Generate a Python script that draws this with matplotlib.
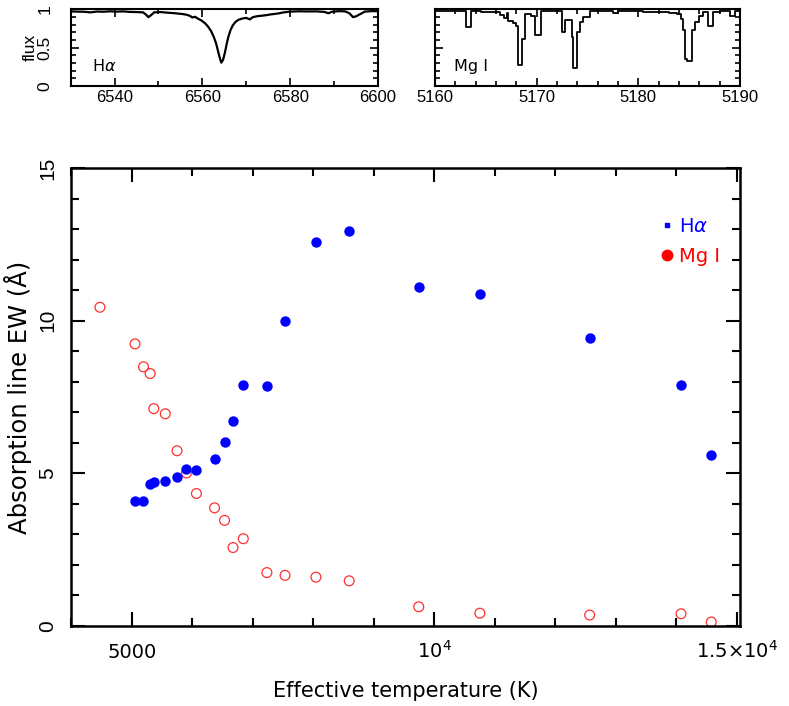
import matplotlib
matplotlib.use("Agg")
import matplotlib.pyplot as plt
from matplotlib.ticker import MultipleLocator, FixedLocator
from matplotlib.lines import Line2D

# stars: effective temperature (K) and line equivalent widths (Angstrom)
teff = [5050, 5190, 5300, 5360, 5550, 5745, 5900, 6065, 6365, 6530, 6670, 6840,
        7230, 7530, 8040, 8590, 9740, 10750, 12565, 14075, 14575]
ew_halpha = [4.10, 4.10, 4.65, 4.73, 4.76, 4.89, 5.13, 5.11, 5.48, 6.02, 6.73, 7.90,
             7.86, 9.99, 12.57, 12.95, 11.09, 10.86, 9.44, 7.89, 5.60]
teff_mg = [4470] + teff
ew_mg = [10.44, 9.24, 8.49, 8.27, 7.12, 6.95, 5.74, 5.01, 4.34, 3.87, 3.46, 2.57,
         2.86, 1.75, 1.66, 1.60, 1.48, 0.63, 0.42, 0.36, 0.40, 0.13]

# example spectrum around H-alpha
ha_wave = [6530.0, 6531.5, 6533.0, 6534.5, 6536.0, 6537.5, 6539.0, 6540.5, 6542.0, 6543.5,
           6545.0, 6546.5, 6547.2, 6547.7, 6548.3, 6549.0, 6550.5, 6552.0, 6553.5, 6554.5,
           6555.5, 6556.5, 6557.2, 6557.7, 6558.3, 6559.0, 6559.8, 6560.6, 6561.3, 6562.0,
           6562.6, 6563.1, 6563.5, 6563.9, 6564.3, 6564.7, 6565.1, 6565.5, 6565.9, 6566.4,
           6566.9, 6567.5, 6568.2, 6569.0, 6570.0, 6570.8, 6571.5, 6572.5, 6573.5, 6574.5,
           6575.5, 6576.5, 6577.5, 6578.5, 6580.0, 6582.0, 6584.0, 6586.0, 6587.8, 6588.7,
           6589.5, 6591.0, 6592.5, 6593.5, 6594.3, 6595.0, 6595.8, 6597.0, 6598.5, 6600.0]
ha_flux = [0.975, 0.972, 0.970, 0.962, 0.973, 0.970, 0.976, 0.972, 0.975, 0.968,
           0.966, 0.962, 0.930, 0.900, 0.925, 0.962, 0.966, 0.958, 0.952, 0.946,
           0.940, 0.930, 0.915, 0.895, 0.905, 0.880, 0.855, 0.820, 0.775, 0.715,
           0.640, 0.560, 0.470, 0.380, 0.305, 0.340, 0.430, 0.540, 0.640, 0.730,
           0.790, 0.835, 0.865, 0.880, 0.890, 0.870, 0.900, 0.912, 0.918, 0.925,
           0.935, 0.942, 0.950, 0.962, 0.972, 0.976, 0.974, 0.975, 0.968, 0.950,
           0.970, 0.978, 0.975, 0.950, 0.900, 0.910, 0.935, 0.972, 0.978, 0.978]

# example spectrum around the Mg I triplet (binned, drawn as steps)
mg_wave = [5160.0, 5161.5, 5163.1, 5163.5, 5164.5, 5165.5, 5166.4, 5166.8, 5167.1, 5167.2,
           5167.7, 5168.0, 5168.2, 5168.6, 5168.9, 5169.4, 5169.8, 5170.4, 5172.5, 5172.8,
           5173.5, 5173.6, 5174.0, 5174.3, 5174.6, 5175.2, 5177.5, 5178.0, 5180.5, 5182.0,
           5183.0, 5183.8, 5184.2, 5184.4, 5184.6, 5184.8, 5185.3, 5185.6, 5186.0, 5186.4,
           5186.9, 5187.3, 5188.0, 5189.0, 5189.5, 5190.0]
mg_flux = [0.980, 0.975, 0.767, 0.975, 0.970, 0.965, 0.933, 0.889, 0.950, 0.854,
           0.820, 0.790, 0.275, 0.610, 0.935, 0.920, 0.663, 0.976, 0.706, 0.859,
           0.641, 0.232, 0.706, 0.837, 0.902, 0.976, 0.960, 0.975, 0.970, 0.965,
           0.958, 0.946, 0.880, 0.728, 0.353, 0.322, 0.728, 0.837, 0.920, 0.963,
           0.790, 0.963, 0.975, 0.920, 0.976, 0.976]

x_ticks = [5000, 10000, 15000]
x_ticklabels = ["5000", "$10^4$", "$1.5{\\times}10^4$"]

fig = plt.figure(figsize=(7.89, 7.06), dpi=100)

# ---- main panel ----
ax = fig.add_axes([0.0906, 0.1133, 0.8473, 0.6487])
ax.scatter(teff, ew_halpha, s=56, color="blue", linewidths=0, zorder=3)
ax.scatter(teff_mg, ew_mg, s=50, facecolors="none", edgecolors="#ff3030", linewidths=0.9, zorder=2)

ax.set_xlim(4000, 15050)
ax.set_ylim(0, 15)
ax.xaxis.set_major_locator(FixedLocator(x_ticks))
ax.xaxis.set_minor_locator(MultipleLocator(1000))
ax.yaxis.set_major_locator(MultipleLocator(5))
ax.yaxis.set_minor_locator(MultipleLocator(1))
ax.set_xticklabels(x_ticklabels, fontsize=14)
ax.tick_params(which="both", direction="in", top=True, right=True, width=1.5)
ax.tick_params(which="major", length=10)
ax.tick_params(which="minor", length=6)
ax.tick_params(axis="x", pad=23)
ax.tick_params(axis="y", pad=10, labelrotation=90, labelsize=15)
for lab in ax.get_xticklabels():
    lab.set_verticalalignment("baseline")
for lab in ax.get_yticklabels():
    lab.set_family("Liberation Sans")
    lab.set_verticalalignment("center")
for sp in ax.spines.values():
    sp.set_linewidth(1.8)

ax.set_xlabel("Effective temperature (K)", fontsize=15, labelpad=14)
ax.set_ylabel("Absorption line EW (Å)", fontsize=17.5, labelpad=5)

handles = [Line2D([], [], ls="none", marker="s", ms=3.5, color="blue"),
           Line2D([], [], ls="none", marker="o", ms=7.5, color="red")]
ax.legend(handles, ["H$\\alpha$", "Mg I"], loc="upper left", bbox_to_anchor=(0.880, 0.894),
          frameon=False, labelcolor="linecolor", fontsize=14, handlelength=0.7,
          handletextpad=0.3, labelspacing=0.6, borderpad=0, borderaxespad=0)

# ---- top panels ----
ax_ha = fig.add_axes([0.0896, 0.8782, 0.3895, 0.1084])
ax_mg = fig.add_axes([0.5513, 0.8782, 0.3866, 0.1084])

ax_ha.plot(ha_wave, ha_flux, color="black", lw=1.6)
ax_mg.step(mg_wave, mg_flux, where="post", color="black", lw=1.3)

ax_ha.set_xlim(6530, 6600)
ax_mg.set_xlim(5160, 5190)
ax_ha.xaxis.set_major_locator(MultipleLocator(20))
ax_ha.xaxis.set_minor_locator(MultipleLocator(10))
ax_mg.xaxis.set_major_locator(MultipleLocator(10))
ax_mg.xaxis.set_minor_locator(MultipleLocator(2))

for a in (ax_ha, ax_mg):
    a.set_ylim(0, 1.0)
    a.yaxis.set_major_locator(FixedLocator([0, 0.5, 1]))
    a.yaxis.set_minor_locator(MultipleLocator(0.1))
    a.set_yticklabels(["0", "0.5", "1"])
    a.tick_params(which="both", direction="in", top=True, right=True, width=1.2)
    a.tick_params(which="major", length=6)
    a.tick_params(which="minor", length=3.5)
    a.tick_params(axis="x", pad=3, labelsize=12)
    a.tick_params(axis="y", pad=13, labelsize=12.5, labelrotation=90)
    for lab in a.get_xticklabels() + a.get_yticklabels():
        lab.set_family("Liberation Sans")
    for lab in a.get_yticklabels():
        lab.set_verticalalignment("center")
    for sp in a.spines.values():
        sp.set_linewidth(1.5)

ax_mg.tick_params(labelleft=False)
ax_ha.set_ylabel("flux", fontsize=12.5, family="Liberation Sans", labelpad=0)

ax_ha.text(0.108, 0.26, "H$\\alpha$", transform=ax_ha.transAxes, fontsize=11.5,
           ha="center", va="center")
ax_mg.text(0.118, 0.26, "Mg I", transform=ax_mg.transAxes, fontsize=11.5,
           ha="center", va="center")

fig.savefig("out.png", dpi=100)
